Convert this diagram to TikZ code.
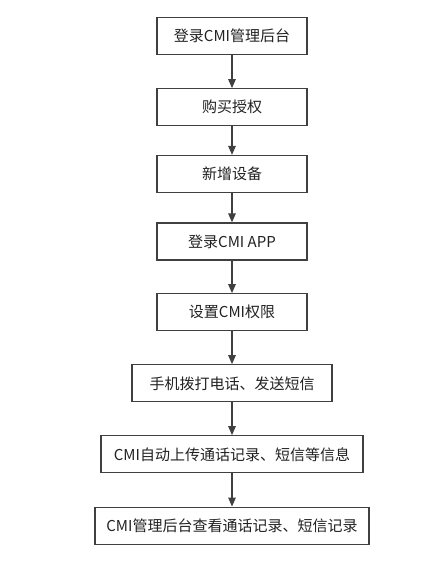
\documentclass[tikz,border=0pt]{standalone}
\usepackage{fontspec}
\setmainfont{Noto Sans CJK SC}
\usetikzlibrary{arrows.meta}
\definecolor{linegray}{HTML}{404040}
\definecolor{txt}{HTML}{222222}
\begin{document}
\begin{tikzpicture}[x=1pt,y=-1pt,
  stepbox/.style={draw=linegray,line width=1.3pt,minimum height=37pt,inner sep=0pt,font=\fontsize{15pt}{17pt}\selectfont,text=txt,fill=white},
  conn/.style={draw=linegray,line width=1.3pt,-{Triangle[length=9pt,width=7.5pt]}}]
\useasboundingbox (0,0) rectangle (436,567);
\node[stepbox,minimum width=150pt] (b1) at (232,35.8) {登录CMI管理后台};
\node[stepbox,minimum width=150pt] (b2) at (232,107.3) {购买授权};
\node[stepbox,minimum width=150pt] (b3) at (232,174) {新增设备};
\node[stepbox,minimum width=150pt] (b4) at (232,241.5) {登录CMI APP};
\node[stepbox,minimum width=150pt] (b5) at (232,312.3) {设置CMI权限};
\node[stepbox,minimum width=200pt] (b6) at (232,383.3) {手机拨打电话、发送短信};
\node[stepbox,minimum width=262pt] (b7) at (232,454.3) {CMI自动上传通话记录、短信等信息};
\node[stepbox,minimum width=274pt] (b8) at (232,525.7) {CMI管理后台查看通话记录、短信记录};
\foreach \a/\b in {b1/b2,b2/b3,b3/b4,b4/b5,b5/b6,b6/b7,b7/b8}
  \draw[conn] (\a) -- (\b);
\end{tikzpicture}
\end{document}
